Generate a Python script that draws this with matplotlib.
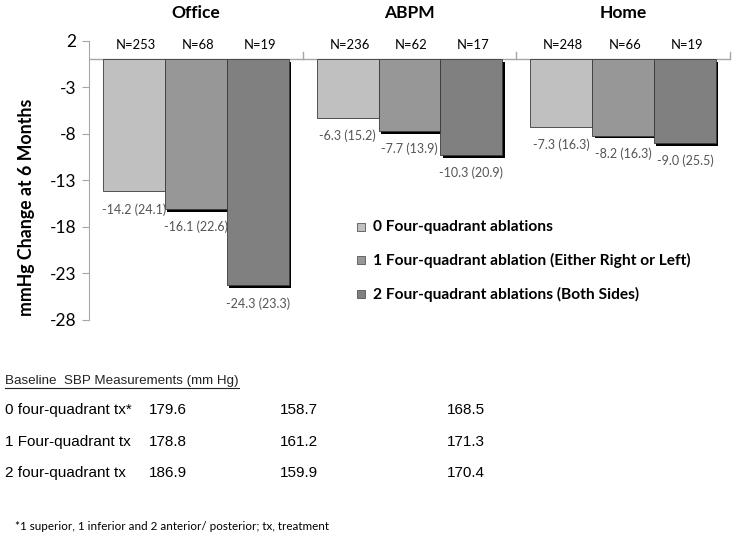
import matplotlib
matplotlib.use("Agg")
import matplotlib.pyplot as plt
from matplotlib import font_manager as fm
from matplotlib.patches import Rectangle
from matplotlib.lines import Line2D

# ---------------- data ----------------
categories = ["Office", "ABPM", "Home"]
series_names = ["0 Four-quadrant ablations",
                "1 Four-quadrant ablation (Either Right or Left)",
                "2 Four-quadrant ablations (Both Sides)"]
means = [[-14.2, -6.3, -7.3],
         [-16.1, -7.7, -8.2],
         [-24.3, -10.3, -9.0]]
sds = [[24.1, 15.2, 16.3],
       [22.6, 13.9, 16.3],
       [23.3, 20.9, 25.5]]
ns = [[253, 236, 248],
      [68, 62, 66],
      [19, 17, 19]]
yticks = [2, -3, -8, -13, -18, -23, -28]
ylabel = "mmHg Change at 6 Months"

table_title = "Baseline  SBP Measurements (mm Hg)"
table_rows = ["0 four-quadrant tx*", "1 Four-quadrant tx", "2 four-quadrant tx"]
table_vals = [["179.6", "158.7", "168.5"],
              ["178.8", "161.2", "171.3"],
              ["186.9", "159.9", "170.4"]]
footnote = "*1 superior, 1 inferior and 2 anterior/ posterior; tx, treatment"

colors = ["#c0c0c0", "#979797", "#808080"]

# ---------------- fonts ----------------
names = {f.name for f in fm.fontManager.ttflist}
cal = "Lato" if "Lato" in names else "DejaVu Sans"
arial = "Liberation Sans Narrow" if "Liberation Sans Narrow" in names else "Liberation Sans"
narrow = arial == "Liberation Sans Narrow"

W, H = 737, 540
fig = plt.figure(figsize=(W / 100, H / 100), dpi=100)
fig.patch.set_facecolor("white")

ax_left, ax_right = 89, 730
ax_top, ax_bot = 40.7, 319.7
ax = fig.add_axes([ax_left / W, 1 - ax_bot / H, (ax_right - ax_left) / W, (ax_bot - ax_top) / H])
ax.set_xlim(0, len(categories))
ax.set_ylim(-28, 2)

bw = 0.29
offsets = [-bw, 0, bw]
sx = 0.011   # shadow offset in x (data)
sy = 0.28    # shadow offset in y (data)
for s in range(3):
    for c in range(3):
        xc = c + 0.5 + offsets[s]
        v = means[s][c]
        if s > 0:
            ax.add_patch(Rectangle((xc - bw / 2 + sx, v - sy), bw, -v, facecolor="black",
                                   edgecolor="none", zorder=1 + s))
        ax.add_patch(Rectangle((xc - bw / 2, v), bw, -v, facecolor=colors[s],
                               edgecolor="#3a3a3a", linewidth=0.6, zorder=1.5 + s))
        ax.annotate(f"{v:.1f} ({sds[s][c]:.1f})", (xc, v), xytext=(0, -18),
                    textcoords="offset pixels", ha="center", va="center",
                    fontsize=9, color="#555555", family=cal, zorder=10)
        ax.annotate(f"N={ns[s][c]}", (xc, 0), xytext=(2, 14),
                    textcoords="offset pixels", ha="center", va="center",
                    fontsize=9.4, color="black", family=cal, annotation_clip=False)

ax.axhline(0, color="#a6a6a6", linewidth=1.0, zorder=0.5)
for b in [1, 2, 3]:
    ax.plot([b, b], [0, 0.8], color="#a6a6a6", linewidth=1.0, clip_on=False)

for sp in ["top", "right", "bottom"]:
    ax.spines[sp].set_visible(False)
ax.spines["left"].set_color("#a6a6a6")
ax.set_xticks([])
ax.set_yticks(yticks)
ax.set_yticklabels([str(t) for t in yticks], family=cal, fontsize=12.5)
ax.tick_params(axis="y", length=5, color="#a6a6a6", pad=4)

fig.text(27 / W, 1 - 207 / H, ylabel, rotation=90, ha="center", va="center",
         family=cal, fontsize=12.8, fontweight="bold")

for c, name in enumerate(categories):
    xpix = ax_left + (c + 0.5) / 3 * (ax_right - ax_left)
    fig.text(xpix / W, 1 - 13 / H, name, ha="center", va="center",
             fontsize=12.5, fontweight="bold", family=cal)

# ---------------- legend ----------------
leg_y = [227, 260, 294]
for s in range(3):
    y = 1 - leg_y[s] / H
    fig.patches.append(Rectangle((357 / W, y - 4 / H), 8 / W, 8 / H, facecolor=colors[s],
                                 edgecolor="#555555", linewidth=0.6,
                                 transform=fig.transFigure, figure=fig))
    fig.text(373 / W, y, series_names[s], ha="left", va="center", fontsize=11.2,
             fontweight="bold", family=cal)

# ---------------- table ----------------
hsize = 12 if narrow else 9.6
rsize = 13.5 if narrow else 11
hdr = fig.text(5 / W, 1 - 381 / H, table_title, ha="left", va="center", fontsize=hsize,
               family=arial, color="#222222")
row_y = [410, 442, 473]
col_right = [187, 318, 485]
for r in range(3):
    y = 1 - row_y[r] / H
    fig.text(5 / W, y, table_rows[r], ha="left", va="center", fontsize=rsize, family=arial)
    for c in range(3):
        fig.text(col_right[c] / W, y, table_vals[r][c], ha="right", va="center",
                 fontsize=rsize, family=arial)

fig.text(15 / W, 1 - 527 / H, footnote, ha="left", va="center", fontsize=8.4, family=cal)

fig.canvas.draw()
bb = hdr.get_window_extent()
fig.add_artist(Line2D([bb.x0 / W, bb.x1 / W], [(bb.y0 - 1) / H, (bb.y0 - 1) / H],
                      color="#222222", linewidth=0.8, transform=fig.transFigure))

fig.savefig("out.png", dpi=100)
